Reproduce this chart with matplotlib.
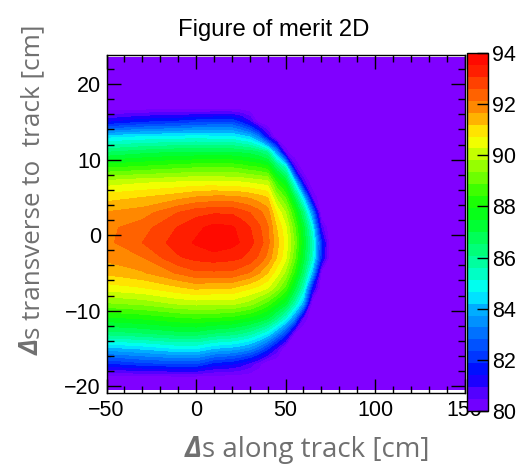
import numpy as np
import matplotlib
matplotlib.use('Agg')
import matplotlib.pyplot as plt
from matplotlib.colors import LinearSegmentedColormap, ListedColormap, BoundaryNorm
from matplotlib.cm import ScalarMappable
from matplotlib.ticker import MultipleLocator

plt.rcParams['font.family'] = ['Liberation Sans', 'DejaVu Sans']

# grid nodes of the 2D figure of merit
x_cm = [-50, -30, -10, 0, 10, 20, 25, 30, 35, 40, 45, 50, 55, 60, 65, 70, 75, 150]
y_cm = [-20.5, -19, -17, -15, -13, -11, -9, -7, -5, -3, -1,
        1, 3, 5, 7, 9, 11, 13, 15, 17, 23.5]

# one row of values per transverse offset (columns follow x_cm)
fom_ym205 = [79.5] * 18
fom_ym19 = [79.5] * 18
fom_ym17 = [81.8, 82.2, 82.4, 82.4, 81.7, 81.5, 81.2, 80.8, 80.2, 79.5, 79.5, 79.5, 79.5, 79.5, 79.5, 79.5, 79.5, 79.5]
fom_ym15 = [84.0, 84.3, 84.7, 84.7, 84.2, 84.0, 83.8, 83.5, 82.9, 82.0, 80.8, 79.5, 79.5, 79.5, 79.5, 79.5, 79.5, 79.5]
fom_ym13 = [86.3, 86.5, 86.8, 86.8, 86.5, 86.3, 86.1, 85.8, 85.3, 84.7, 83.6, 82.3, 80.0, 79.5, 79.5, 79.5, 79.5, 79.5]
fom_ym11 = [87.8, 88.0, 88.3, 88.4, 88.3, 88.2, 88.0, 87.8, 87.5, 87.1, 86.2, 85.1, 83.4, 80.3, 79.5, 79.5, 79.5, 79.5]
fom_ym9 = [89.3, 89.5, 89.9, 90.0, 90.0, 90.0, 89.8, 89.6, 89.2, 88.7, 88.0, 87.3, 85.7, 83.9, 79.5, 79.5, 79.5, 79.5]
fom_ym7 = [90.5, 90.7, 91.1, 91.3, 91.2, 91.2, 91.0, 90.8, 90.6, 90.3, 89.6, 88.7, 87.2, 85.4, 81.5, 79.5, 79.5, 79.5]
fom_ym5 = [91.3, 91.6, 92.2, 92.5, 92.5, 92.5, 92.3, 92.1, 91.7, 91.2, 90.5, 89.7, 88.3, 86.5, 84.0, 79.8, 79.5, 79.5]
fom_ym3 = [91.8, 92.1, 93.0, 93.2, 93.3, 93.2, 93.1, 92.9, 92.5, 92.0, 91.2, 90.4, 89.0, 87.2, 85.3, 81.8, 79.5, 79.5]
fom_ym1 = [92.0, 92.6, 93.3, 93.6, 93.9, 93.7, 93.5, 93.2, 92.9, 92.3, 91.4, 90.6, 89.3, 87.5, 85.5, 82.0, 79.5, 79.5]
fom_y1 = [92.0, 92.4, 93.1, 93.4, 93.7, 93.6, 93.4, 93.1, 92.7, 92.2, 91.2, 90.4, 89.0, 87.2, 84.9, 80.7, 79.5, 79.5]
fom_y3 = [91.7, 91.9, 92.6, 92.9, 93.0, 93.0, 92.8, 92.6, 92.3, 91.9, 90.7, 89.8, 88.3, 86.3, 83.3, 79.5, 79.5, 79.5]
fom_y5 = [91.0, 91.2, 91.5, 91.7, 91.8, 91.8, 91.7, 91.6, 91.4, 91.2, 89.7, 88.8, 86.9, 84.3, 80.4, 79.5, 79.5, 79.5]
fom_y7 = [90.0, 90.2, 90.3, 90.4, 90.4, 90.3, 90.3, 90.2, 90.1, 90.0, 88.4, 87.5, 84.6, 80.8, 79.5, 79.5, 79.5, 79.5]
fom_y9 = [88.3, 88.5, 88.7, 88.8, 88.8, 88.8, 88.7, 88.5, 88.4, 88.1, 86.6, 85.3, 80.7, 79.5, 79.5, 79.5, 79.5, 79.5]
fom_y11 = [86.5, 86.8, 87.0, 87.0, 87.0, 87.0, 86.9, 86.8, 86.5, 86.0, 83.6, 80.2, 79.5, 79.5, 79.5, 79.5, 79.5, 79.5]
fom_y13 = [84.5, 84.7, 84.8, 84.9, 84.8, 84.8, 84.5, 84.2, 83.2, 81.2, 79.5, 79.5, 79.5, 79.5, 79.5, 79.5, 79.5, 79.5]
fom_y15 = [81.3, 81.8, 82.0, 82.2, 82.3, 82.3, 81.8, 81.0, 79.8, 79.5, 79.5, 79.5, 79.5, 79.5, 79.5, 79.5, 79.5, 79.5]
fom_y17 = [79.5] * 18
fom_y235 = [79.5] * 18

z_min, z_max, n_cont = 80, 94, 30
cbar_ticks = [80, 82, 84, 86, 88, 90, 92, 94]

# rainbow palette anchors (value, colour)
pal_values = [80.0, 80.7, 81.4, 82.0, 83.0, 84.0, 84.7, 86.0, 87.5, 88.3, 90.0, 90.7, 92.0, 93.3, 94.0]
pal_colors = ['#8000ff', '#5000ff', '#0000ff', '#0030ff', '#0070ff', '#00b0ff', '#00ffff', '#00ff90',
              '#00ff20', '#20ff00', '#c0ff00', '#ffff00', '#ff8000', '#ff2000', '#ff0000']

Z = np.array([fom_ym205, fom_ym19, fom_ym17, fom_ym15, fom_ym13, fom_ym11, fom_ym9, fom_ym7,
              fom_ym5, fom_ym3, fom_ym1, fom_y1, fom_y3, fom_y5, fom_y7, fom_y9, fom_y11,
              fom_y13, fom_y15, fom_y17, fom_y235])

levels = np.linspace(z_min, z_max, n_cont + 1)
base = LinearSegmentedColormap.from_list(
    'pal', [((v - z_min) / (z_max - z_min), c) for v, c in zip(pal_values, pal_colors)])
centers = 0.5 * (levels[:-1] + levels[1:])
cmap = ListedColormap([base((c - z_min) / (z_max - z_min)) for c in centers])
cmap.set_under(pal_colors[0])
norm = BoundaryNorm(levels, cmap.N)

W, H = 517, 466
fig = plt.figure(figsize=(W / 100, H / 100), dpi=100)
ax = fig.add_axes([106.5 / W, 1 - 393 / H, (464.5 - 106.5) / W, (393 - 55) / H])

ax.contourf(x_cm, y_cm, Z, levels=levels, cmap=cmap, norm=norm, extend='min')
ax.set_xlim(-50, 150)
ax.set_ylim(-20.9, 23.85)

ax.xaxis.set_major_locator(MultipleLocator(50))
ax.xaxis.set_minor_locator(MultipleLocator(10))
ax.yaxis.set_major_locator(MultipleLocator(10))
ax.yaxis.set_minor_locator(MultipleLocator(2))
ax.tick_params(which='both', direction='in', top=True, right=True, width=1, colors='black',
               labelsize=15.5)
ax.tick_params(which='major', length=10)
ax.tick_params(which='minor', length=5)
ax.tick_params(axis='x', pad=5)
ax.tick_params(axis='y', pad=4)
for s in ax.spines.values():
    s.set_linewidth(1)

# palette axis on the right
cax = fig.add_axes([467 / W, 1 - 411 / H, 21 / W, (411 - 53) / H])
sm = ScalarMappable(norm=norm, cmap=cmap)
cb = fig.colorbar(sm, cax=cax, ticks=cbar_ticks)
cb.outline.set_linewidth(1)
cax.yaxis.set_ticks_position('right')
cax.tick_params(direction='in', length=8, width=1, labelsize=15.5, pad=3)
cax.minorticks_off()

fig.text(273.5 / W, 1 - 30 / H, 'Figure of merit 2D', ha='center', va='center', fontsize=17.2)

# axis titles: bold italic delta followed by plain text
xlab_kw = dict(family='Open Sans', fontsize=20, color='#707070')
ylab_kw = dict(family='Open Sans', fontsize=18.8, color='#707070')
dx = fig.text(185 / W, 1 - 464 / H, '\u0394', ha='left', va='bottom',
              weight='bold', style='italic', **xlab_kw)
ax.annotate('s along track [cm]', xy=(1, 0), xycoords=dx, ha='left', va='bottom',
            annotation_clip=False, **xlab_kw)

dy = fig.text(18 / W, 1 - 355 / H, '\u0394', ha='left', va='bottom', rotation=90,
              weight='bold', style='italic', **ylab_kw)
ax.annotate('s transverse to  track [cm]', xy=(1, 1), xycoords=dy, ha='right', va='bottom',
            rotation=90, annotation_clip=False, **ylab_kw)

fig.savefig('out.png', dpi=100, facecolor='white')
